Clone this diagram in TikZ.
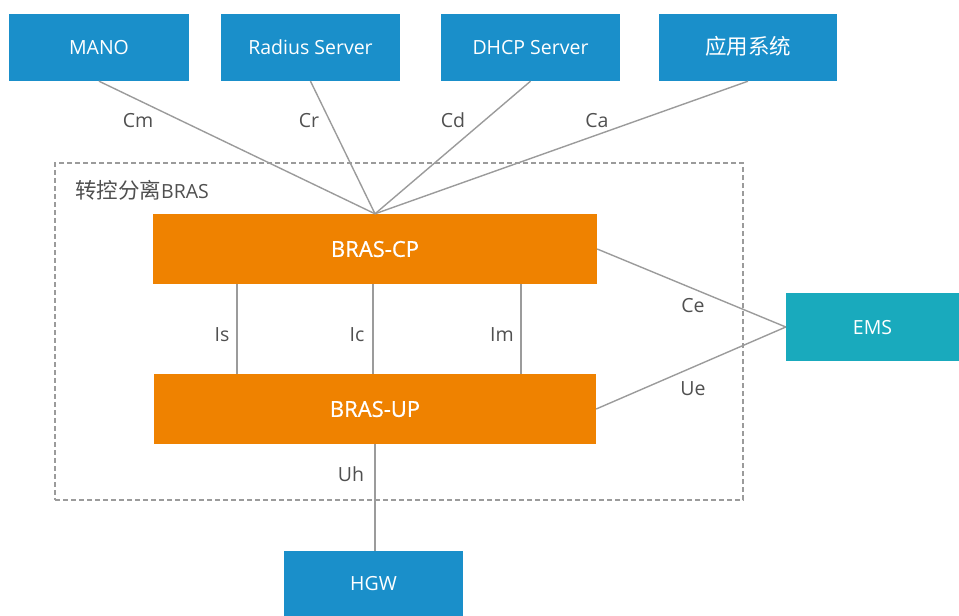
\documentclass[tikz,border=0pt]{standalone}
\usepackage{fontspec}
\setmainfont{Open Sans}
\newfontfamily\cjk{Noto Sans CJK SC}
\newfontfamily\semib[FakeBold=0.7]{Open Sans}
\definecolor{boxblue}{HTML}{1A8FCA}
\definecolor{boxorange}{HTML}{EF8200}
\definecolor{boxteal}{HTML}{19AABD}
\definecolor{linegray}{HTML}{9B9B9B}
\definecolor{txtgray}{HTML}{505050}
\tikzset{
  bluebox/.style={rectangle, fill=boxblue, text=white, inner sep=0pt, minimum height=67pt, text height=14pt, text depth=0pt, font=\fontsize{19.5}{21}\selectfont},
  orangebox/.style={rectangle, fill=boxorange, text=white, inner sep=0pt, minimum height=70pt, text height=15.7pt, text depth=0pt, font=\fontsize{22}{24}\semib},
  tealbox/.style={rectangle, fill=boxteal, text=white, inner sep=0pt, text height=14pt, text depth=0pt, font=\fontsize{19.5}{21}\selectfont},
  conn/.style={draw=linegray, line width=1.4pt},
  lbl/.style={text=txtgray, inner sep=0pt, text height=14pt, text depth=0pt, font=\fontsize{19.5}{21}\selectfont},
}
\begin{document}
\begin{tikzpicture}[x=1pt,y=-1pt]
\useasboundingbox (0,0) rectangle (959,616);
\node[draw=linegray, line width=1.2pt, dash pattern=on 5pt off 3pt, minimum width=688pt, minimum height=337pt, inner sep=0pt] (bras) at (399,331.5) {};
\node[lbl, anchor=west] (braslbl) at (75,191) {{\cjk\fontsize{21.5}{23}\selectfont 转控分离}BRAS};
\node[bluebox, minimum width=180pt] (mano) at (99,47.5) {MANO};
\node[bluebox, minimum width=179pt] (radius) at (310.5,47.5) {Radius Server};
\node[bluebox, minimum width=179pt] (dhcp) at (530.5,47.5) {DHCP Server};
\node[bluebox, minimum width=178pt] (app) at (748,47.5) {\cjk\fontsize{21.5}{23}\selectfont 应用系统};
\node[orangebox, minimum width=444pt] (cp) at (375,249) {BRAS-CP};
\node[orangebox, minimum width=442pt] (up) at (375,409) {BRAS-UP};
\node[tealbox, minimum width=173pt, minimum height=68pt] (ems) at (872.5,327) {EMS};
\node[bluebox, minimum width=179pt, minimum height=65pt] (hgw) at (373.5,583.5) {HGW};
\coordinate (xs) at (237,0);
\coordinate (xc) at (373,0);
\coordinate (xm) at (521,0);
\draw[conn] (mano.south) -- (cp.north);
\draw[conn] (radius.south) -- (cp.north);
\draw[conn] (dhcp.south) -- (cp.north);
\draw[conn] (app.south) -- (cp.north);
\draw[conn] (cp.south -| xs) -- (up.north -| xs);
\draw[conn] (cp.south -| xc) -- (up.north -| xc);
\draw[conn] (cp.south -| xm) -- (up.north -| xm);
\draw[conn] (cp.east) -- (ems.west);
\draw[conn] (up.east) -- (ems.west);
\draw[conn] (up.south) -- (up.south |- hgw.north);
\node[lbl] (lcm) at (138,120.5) {Cm};
\node[lbl] (lcr) at (309,120.5) {Cr};
\node[lbl] (lcd) at (453,120.5) {Cd};
\node[lbl] (lca) at (597,120.5) {Ca};
\node[lbl] (lis) at (222,334.5) {Is};
\node[lbl] (lic) at (357,334.5) {Ic};
\node[lbl] (lim) at (502,334.5) {Im};
\node[lbl] (lce) at (693,305) {Ce};
\node[lbl] (lue) at (693,388) {Ue};
\node[lbl] (luh) at (351,474) {Uh};
\end{tikzpicture}
\end{document}
